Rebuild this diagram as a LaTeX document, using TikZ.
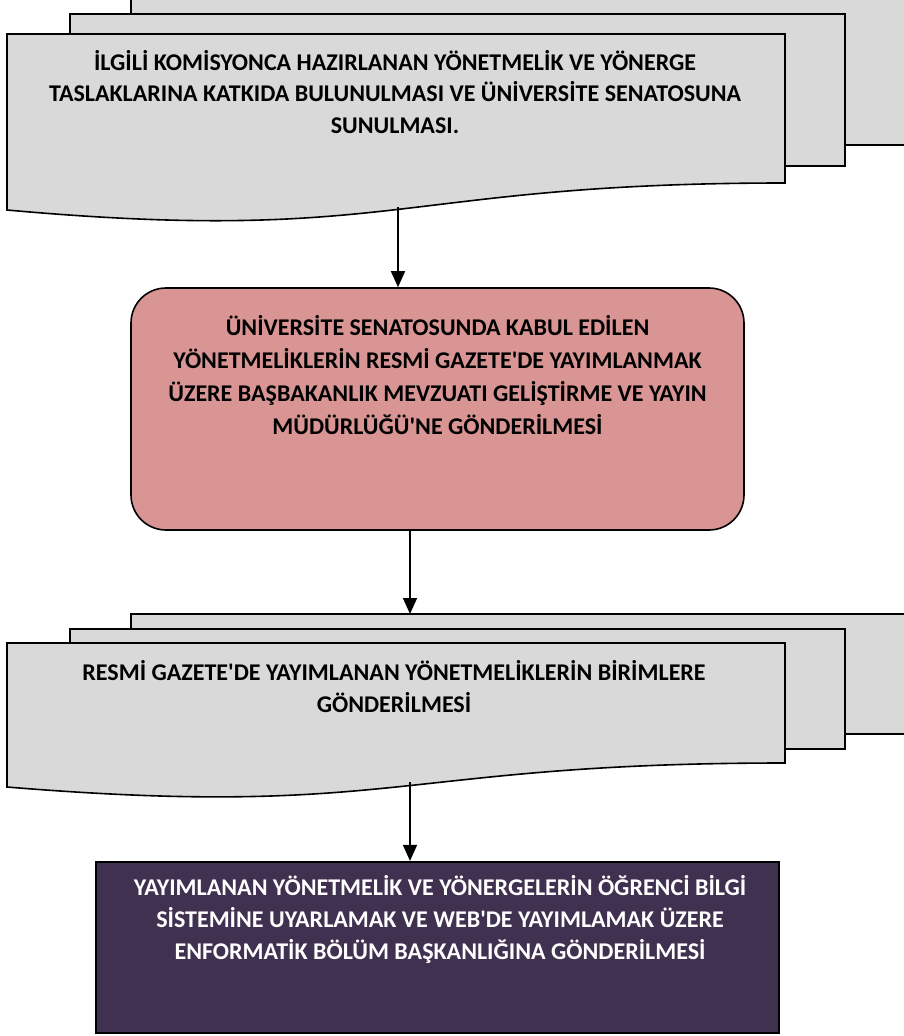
\documentclass[tikz,border=0pt]{standalone}
\usepackage{fontspec}
\setmainfont{Carlito}
\usetikzlibrary{arrows.meta}
\definecolor{sheetgray}{HTML}{D9D9D9}
\definecolor{pinkfill}{HTML}{D99594}
\definecolor{purplefill}{HTML}{403151}
\tikzset{
  sheet/.style={draw=black, fill=sheetgray, line width=1.6pt, line join=miter},
  lbl/.style={font=\bfseries\fontsize{24}{32}\selectfont, align=center, inner sep=0pt},
  flow/.style={draw=black, line width=1.6pt, -{Triangle[width=14pt,length=16pt]}},
}
\newcommand{\apo}{\textquotesingle}
\begin{document}
\begin{tikzpicture}[x=1pt,y=-1pt]
\useasboundingbox (0,0) rectangle (904,1036);
\begin{scope}
\clip (0,0) rectangle (904,1036);
% group 1 (multi-document)
\path[sheet] (131,-6) rectangle (910,145);
\path[sheet] (70,14) rectangle (845,166);
\path[sheet] (7,34) -- (785,34) -- (785,183) .. controls (396,183) and (396,245) .. (7,210) -- cycle;
\node[lbl, font=\bfseries\fontsize{24}{31.5}\selectfont] (komisyon) at (395,92) {İLGİLİ KOMİSYONCA HAZIRLANAN YÖNETMELİK VE YÖNERGE\\TASLAKLARINA KATKIDA BULUNULMASI VE ÜNİVERSİTE SENATOSUNA\\SUNULMASI.};
\coordinate (d1out) at (398,207);
% senate box
\node[draw=black, fill=pinkfill, rounded corners=35pt, minimum width=613pt, minimum height=242pt, line width=1.6pt, inner sep=0pt] (senate) at (437.5,409) {};
\node[lbl, font=\bfseries\fontsize{24}{33}\selectfont] (senatetext) at (437.5,375) {ÜNİVERSİTE SENATOSUNDA KABUL EDİLEN\\YÖNETMELİKLERİN RESMİ GAZETE\apo DE YAYIMLANMAK\\ÜZERE BAŞBAKANLIK MEVZUATI GELİŞTİRME VE YAYIN\\MÜDÜRLÜĞÜ\apo NE GÖNDERİLMESİ};
\coordinate (s1out) at (410,530);
% group 2 (multi-document)
\path[sheet] (131,614) rectangle (910,734);
\path[sheet] (70,629) rectangle (845,749);
\path[sheet] (7,643) -- (785,643) -- (785,763) .. controls (396,763) and (396,819) .. (7,787) -- cycle;
\node[lbl] (gazete) at (394,687) {RESMİ GAZETE\apo DE YAYIMLANAN YÖNETMELİKLERİN BİRİMLERE\\GÖNDERİLMESİ};
\coordinate (d2in) at (410,614);
\coordinate (d2out) at (410,782);
% informatics box
\node[draw=black, fill=purplefill, minimum width=683pt, minimum height=171pt, line width=2.2pt, inner sep=0pt] (enf) at (437.5,947.5) {};
\node[lbl, text=white] (enftext) at (440,919) {YAYIMLANAN YÖNETMELİK VE YÖNERGELERİN ÖĞRENCİ BİLGİ\\SİSTEMİNE UYARLAMAK VE WEB\apo DE YAYIMLAMAK ÜZERE\\ENFORMATİK BÖLÜM BAŞKANLIĞINA GÖNDERİLMESİ};
% connectors
\draw[flow] (d1out) -- (d1out |- senate.north);
\draw[flow] (s1out) -- (d2in);
\draw[flow] (d2out) -- (d2out |- enf.north);
\end{scope}
\end{tikzpicture}
\end{document}
